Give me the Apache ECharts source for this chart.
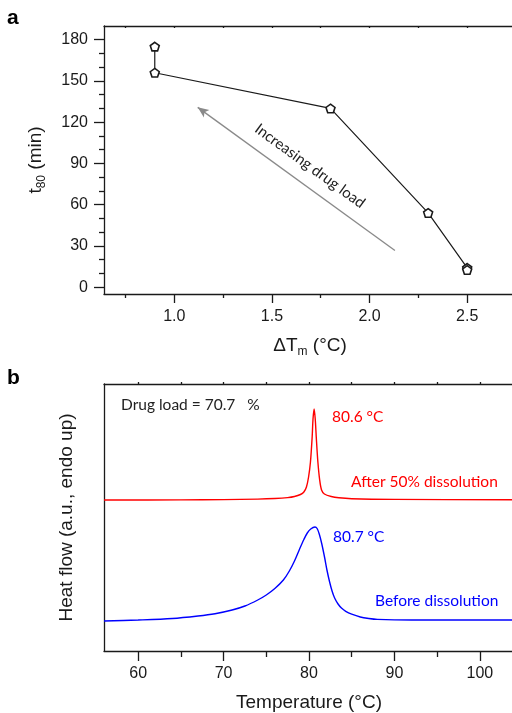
<!DOCTYPE html>
<html>
<head>
<meta charset="utf-8">
<script src="https://cdn.jsdelivr.net/npm/echarts@6/dist/echarts.min.js"></script>
<style>
html, body { margin: 0; padding: 0; background: #fff; }
#chart { width: 512px; height: 713px; }
</style>
</head>
<body>
<div id="chart"></div>
<script>
// ---- Panel a: t80 versus melting-point depression ----
const deltaTm = [0.9, 0.9, 1.8, 2.3, 2.5, 2.5];
const t80 = [175, 156, 130, 54, 14, 12.5];
const aXLabels = [1.0, 1.5, 2.0, 2.5];
const aXMinor = [0.75, 1.25, 1.75, 2.25, 2.75];
const aXTop = [0.75, 1.0, 1.25, 1.5, 1.75, 2.0, 2.25, 2.5, 2.75];
const aYLabels = [0, 30, 60, 90, 120, 150, 180];
const aYMinor = [10, 20, 40, 50, 70, 80, 100, 110, 130, 140, 160, 170];
const arrowFrom = [2.13, 26.7];
const arrowTo = [1.12, 130.8];

// ---- Panel b: DSC thermograms (heat flow, arbitrary units) ----
const tempAfter = [56, 65, 70, 74, 76, 77.5, 78.3, 79, 79.4, 79.7, 79.95, 80.17, 80.37, 80.47, 80.6, 80.73, 80.85, 81.04, 81.25, 81.47, 81.8, 82.6, 83.5, 85, 90, 104];
const flowAfter = [151, 151.1, 151.4, 151.9, 152.5, 153.4, 154.5, 156.5, 159, 164, 174, 189, 214, 232, 242, 232, 214, 189, 171, 161, 157, 154.5, 153.2, 152.3, 151.6, 151.2];
const tempBefore = [56, 60, 64, 67, 69, 71, 72.5, 74, 75, 76, 77, 77.7, 78.3, 78.9, 79.4, 79.8, 80.2, 80.7, 80.95, 81.2, 81.5, 81.84, 82.1, 82.4, 82.7, 83, 83.4, 83.8, 84.3, 85, 86, 87, 88, 92, 104];
const flowBefore = [30, 31, 32.5, 35, 37.3, 41, 45, 51, 56, 62.5, 71, 80, 90, 102, 111.5, 118, 122, 124, 122.5, 117, 107, 93, 81, 69.5, 60, 53, 47, 43, 39.7, 36.8, 34, 32.5, 31.6, 31, 31];
const bXLabels = [60, 70, 80, 90, 100];
const bXMinor = [65, 75, 85, 95];
const bXTop = [60, 65, 70, 75, 80, 85, 90, 95, 100];

const ink = '#1a1a1a';
const sans = 'Liberation Sans, Arial, sans-serif';
const note = 'Lato, sans-serif';
const red = '#ff0000';
const blue = '#0000ff';
const pentagon = 'path://M0,-10 L9.51,-3.09 L5.88,8.09 L-5.88,8.09 L-9.51,-3.09 Z';

const pairs = (xs, ys) => xs.map((x, i) => [x, ys[i]]);
const line = { color: ink, width: 1.3 };

function majorX(grid, min, max, labels, fmt, len, name) {
  return {
    gridIndex: grid, type: 'value', min: min, max: max, position: 'bottom',
    axisLine: { show: true, onZero: false, lineStyle: line },
    axisTick: { show: true, customValues: labels, length: len, lineStyle: line },
    axisLabel: { customValues: labels, formatter: fmt, margin: 15, fontSize: 16, color: ink, fontFamily: sans },
    splitLine: { show: false },
    name: name, nameLocation: 'middle', nameGap: 40,
    nameTextStyle: { fontFamily: sans, fontSize: 19, color: ink, lineHeight: 24,
      rich: { sub: { fontFamily: sans, fontSize: 12, lineHeight: 12, verticalAlign: 'bottom', color: ink } } }
  };
}
function tickOnly(grid, min, max, values, len, pos, inside, showLine) {
  return {
    gridIndex: grid, type: 'value', min: min, max: max, position: pos,
    axisLine: { show: !!showLine, onZero: false, lineStyle: line },
    axisTick: { show: true, customValues: values, length: len, inside: !!inside, lineStyle: line },
    axisLabel: { show: false }, splitLine: { show: false }
  };
}

const chart = echarts.init(document.getElementById('chart'), null, { renderer: 'canvas' });

const option = {
  animation: false,
  backgroundColor: '#fff',
  grid: [
    { left: 104, right: -4, top: 26, bottom: 419, outerBoundsMode: 'none', containLabel: false },
    { left: 104, right: -2, top: 384, bottom: 62, outerBoundsMode: 'none', containLabel: false }
  ],
  xAxis: [
    majorX(0, 0.64, 2.75, aXLabels, v => v.toFixed(1), 9, 'ΔT{sub|m} (°C)'),
    tickOnly(0, 0.64, 2.75, aXMinor, 4, 'bottom', false, false),
    tickOnly(0, 0.64, 2.75, aXTop, 2, 'top', true, true),
    majorX(1, 56, 104, bXLabels, v => String(v), 10, 'Temperature (°C)'),
    tickOnly(1, 56, 104, bXMinor, 6, 'bottom', false, false),
    tickOnly(1, 56, 104, bXTop, 2, 'top', false, true)
  ],
  yAxis: [
    {
      gridIndex: 0, type: 'value', min: -5, max: 190, position: 'left',
      axisLine: { show: true, onZero: false, lineStyle: line },
      axisTick: { show: true, customValues: aYLabels, length: 10, lineStyle: line },
      axisLabel: { customValues: aYLabels, margin: 16, fontSize: 16, color: ink, fontFamily: sans },
      splitLine: { show: false },
      name: 't{sub|80} (min)', nameLocation: 'middle', nameGap: 56,
      nameTextStyle: { fontFamily: sans, fontSize: 19, color: ink, lineHeight: 24,
        rich: { sub: { fontFamily: sans, fontSize: 12, lineHeight: 12, verticalAlign: 'bottom', color: ink } } }
    },
    tickOnly(0, -5, 190, aYMinor, 5, 'left', false, false),
    {
      gridIndex: 1, type: 'value', min: 0, max: 267, position: 'left',
      axisLine: { show: true, onZero: false, lineStyle: line },
      axisTick: { show: false }, axisLabel: { show: false }, splitLine: { show: false },
      name: 'Heat flow (a.u., endo up)', nameLocation: 'middle', nameGap: 28,
      nameTextStyle: { fontFamily: sans, fontSize: 19, color: ink }
    }
  ],
  series: [
    {
      type: 'line', xAxisIndex: 0, yAxisIndex: 0,
      data: pairs(deltaTm, t80),
      symbol: pentagon, symbolSize: 9, symbolKeepAspect: true, showSymbol: true,
      lineStyle: { color: ink, width: 1.2 },
      itemStyle: { color: '#fff', borderColor: ink, borderWidth: 1.6 },
      markLine: {
        silent: true, symbol: ['none', 'arrow'], symbolSize: [7, 11],
        lineStyle: { color: '#8a8a8a', width: 1.3, type: 'solid' },
        label: { show: false },
        data: [[{ coord: arrowFrom }, { coord: arrowTo }]]
      }
    },
    {
      type: 'line', xAxisIndex: 3, yAxisIndex: 2,
      data: pairs(tempAfter, flowAfter), showSymbol: false,
      smooth: 0.3, lineStyle: { color: red, width: 1.4 }
    },
    {
      type: 'line', xAxisIndex: 3, yAxisIndex: 2,
      data: pairs(tempBefore, flowBefore), showSymbol: false,
      smooth: 0.3, lineStyle: { color: blue, width: 1.4 }
    }
  ],
  graphic: [
    { type: 'text', left: 7, top: 8, style: { text: 'a', font: 'bold 21px Liberation Sans', fill: '#000' } },
    { type: 'text', left: 7, top: 368, style: { text: 'b', font: 'bold 21px Liberation Sans', fill: '#000' } },
    { type: 'text', x: 310, y: 166, rotation: -36 * Math.PI / 180,
      style: { text: 'Increasing drug load', font: '15px ' + note, fill: '#222', align: 'center', verticalAlign: 'middle' } },
    { type: 'text', x: 121, y: 405, style: { text: 'Drug load = 70.7   %', font: '15.5px ' + note, fill: '#222', verticalAlign: 'middle' } },
    { type: 'text', x: 332, y: 417, style: { text: '80.6 °C', font: '15.5px ' + note, fill: red, verticalAlign: 'middle' } },
    { type: 'text', x: 351, y: 482, style: { text: 'After 50% dissolution', font: '15.5px ' + note, fill: red, verticalAlign: 'middle' } },
    { type: 'text', x: 333, y: 537, style: { text: '80.7 °C', font: '15.5px ' + note, fill: blue, verticalAlign: 'middle' } },
    { type: 'text', x: 375, y: 601, style: { text: 'Before dissolution', font: '15.5px ' + note, fill: blue, verticalAlign: 'middle' } }
  ]
};

chart.setOption(option);
</script>
</body>
</html>
